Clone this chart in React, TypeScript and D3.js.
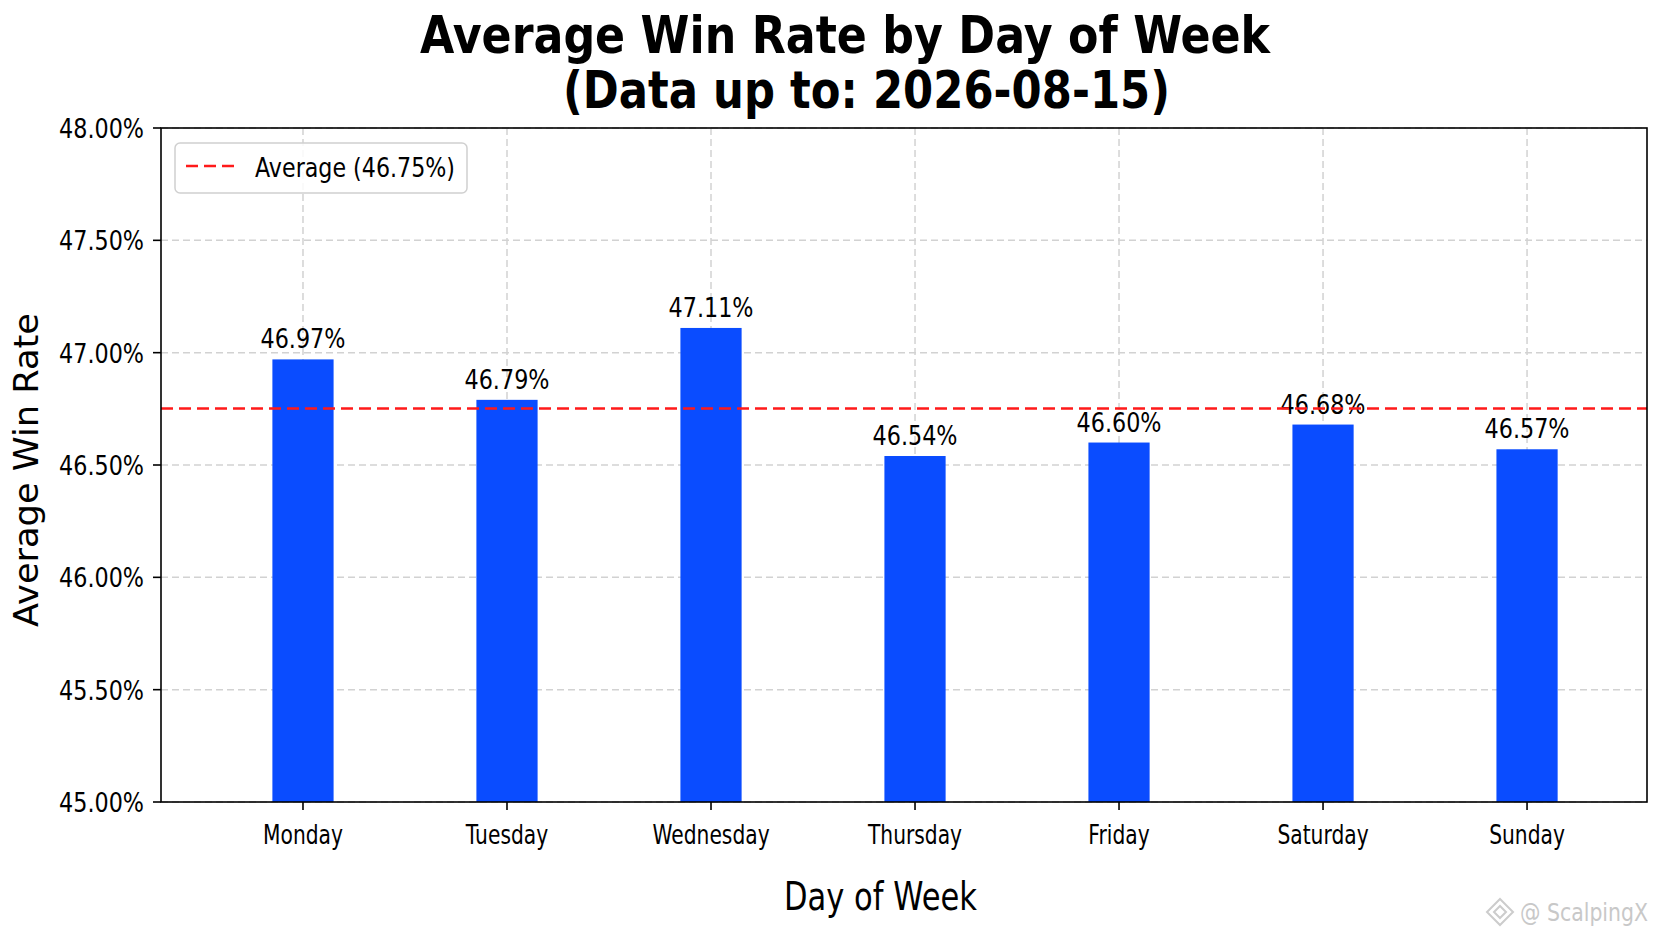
import React from "react";
import * as d3 from "d3";

const days = ["Monday", "Tuesday", "Wednesday", "Thursday", "Friday", "Saturday", "Sunday"];
const winRates = [46.97, 46.79, 47.11, 46.54, 46.6, 46.68, 46.57];
const yTicks = [45, 45.5, 46, 46.5, 47, 47.5, 48];
const titleLine1 = "Average Win Rate by Day of Week";
const titleLine2 = "(Data up to: 2026-08-15)";
const xLabel = "Day of Week";
const yLabel = "Average Win Rate";
const watermark = "@ ScalpingX";

const W = 1672;
const H = 941;
const left = 161;
const right = 1647;
const top = 128;
const bottom = 802;
const FONT = "'DejaVu Sans', Verdana, sans-serif";
const BAR = "#0a4cff";

function T(props: {
  x: number;
  y: number;
  sx?: number;
  size: number;
  anchor?: string;
  weight?: string | number;
  fill?: string;
  len?: number;
  rotate?: number;
  children?: React.ReactNode;
}) {
  const { x, y, sx = 1, size, anchor = "middle", weight = "normal", fill = "#000", len, rotate, children } = props;
  const tr = `translate(${x},${y})${rotate ? ` rotate(${rotate})` : ""}${sx !== 1 ? ` scale(${sx},1)` : ""}`;
  const extra: any = len ? { textLength: len, lengthAdjust: "spacingAndGlyphs" } : {};
  return (
    <text
      transform={tr}
      fontFamily={FONT}
      fontSize={size}
      fontWeight={weight}
      textAnchor={anchor}
      fill={fill}
      {...extra}
    >
      {children}
    </text>
  );
}

export default function App() {
  const x = d3.scaleLinear().domain([-0.696, 6.588]).range([left, right]);
  const y = d3.scaleLinear().domain([45, 48]).range([bottom, top]);
  const unit = x(1) - x(0);
  const barW = unit * 0.3;
  const avg = d3.mean(winRates) as number;
  const fmt = (v: number) => `${v.toFixed(2)}%`;
  const idx = d3.range(days.length);

  return (
    <svg
      width={W}
      height={H}
      viewBox={`0 0 ${W} ${H}`}
      style={{ position: "absolute", left: 0, top: 0, background: "#fff" }}
    >
      <rect x={0} y={0} width={W} height={H} fill="#fff" />
      {/* Title */}
      <T x={845} y={53} size={52} weight="bold" len={850}>{titleLine1}</T>
      <T x={866.5} y={108} size={52} weight="bold" len={607}>{titleLine2}</T>

      {/* grid */}
      <g stroke="#d2d2d2" strokeWidth={1.5} strokeDasharray="7,4">
        {yTicks.map((t) => (
          <line key={"gy" + t} x1={left} x2={right} y1={y(t)} y2={y(t)} />
        ))}
        {idx.map((i) => (
          <line key={"gx" + i} x1={x(i)} x2={x(i)} y1={top} y2={bottom} />
        ))}
      </g>

      {/* bars */}
      {idx.map((i) => (
        <rect
          key={"b" + i}
          x={x(i) - barW / 2}
          y={y(winRates[i])}
          width={barW}
          height={bottom - y(winRates[i])}
          fill={BAR}
        />
      ))}

      {/* value labels */}
      {idx.map((i) => (
        <T key={"v" + i} x={x(i)} y={y(winRates[i]) - 11} size={27} sx={0.825}>
          {fmt(winRates[i])}
        </T>
      ))}

      {/* average line */}
      <line
        x1={left}
        x2={right}
        y1={y(avg)}
        y2={y(avg)}
        stroke="#ff1a1a"
        strokeWidth={2.6}
        strokeDasharray="12,6"
      />

      {/* frame */}
      <rect x={left} y={top} width={right - left} height={bottom - top} fill="none" stroke="#000" strokeWidth={1.6} />

      {/* y ticks */}
      {yTicks.map((t) => (
        <g key={"yt" + t}>
          <line x1={left - 8} x2={left} y1={y(t)} y2={y(t)} stroke="#000" strokeWidth={1.6} />
          <T x={144} y={y(t) + 10} size={27} sx={0.825} anchor="end">
            {fmt(t)}
          </T>
        </g>
      ))}

      {/* x ticks */}
      {idx.map((i) => (
        <g key={"xt" + i}>
          <line x1={x(i)} x2={x(i)} y1={bottom} y2={bottom + 8} stroke="#000" strokeWidth={1.6} />
          <T x={x(i)} y={844} size={27} sx={0.75}>
            {days[i]}
          </T>
        </g>
      ))}

      {/* axis labels */}
      <T x={880.5} y={910} size={38.5} len={193}>{xLabel}</T>
      <T x={38} y={470} size={33} rotate={-90} len={314}>{yLabel}</T>

      {/* legend */}
      <rect x={175} y={143} width={292} height={50} rx={5} fill="#fff" fillOpacity={0.85} stroke="#d0d0d0" strokeWidth={1.5} />
      <line x1={186} x2={234} y1={166} y2={166} stroke="#ff1a1a" strokeWidth={2.6} strokeDasharray="12,6" />
      <T x={255} y={177} size={27} anchor="start" len={200}>{`Average (${fmt(avg)})`}</T>

      {/* watermark */}
      <g fill="none" stroke="#cccccc" strokeWidth={2}>
        <path d="M1500,899 L1513,912 L1500,925 L1487,912 Z" />
        <path d="M1500,906 L1506,912 L1500,918 L1494,912 Z" />
      </g>
      <T x={1520} y={921} size={24} anchor="start" fill="#c8c8c8" len={128}>{watermark}</T>
    </svg>
  );
}
